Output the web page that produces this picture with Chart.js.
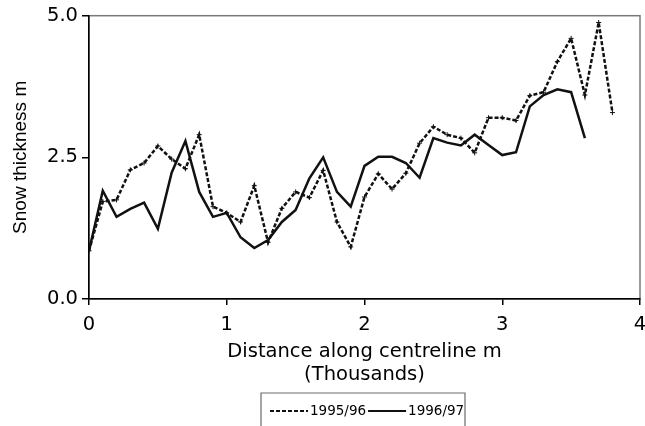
<!DOCTYPE html>
<html>
<head>
<meta charset="utf-8">
<title>Snow thickness along centreline</title>
<script src="https://cdn.jsdelivr.net/npm/chart.js@4/dist/chart.umd.min.js"></script>
<style>
  html, body { margin: 0; padding: 0; background: #fff; }
  canvas { display: block; }
</style>
</head>
<body>
<canvas id="snow-chart" width="645" height="426"></canvas>
<script>
// distance along centreline, thousands of m
const distance = [0, 0.1, 0.2, 0.3, 0.4, 0.5, 0.6, 0.7, 0.8, 0.9,
                  1.0, 1.1, 1.2, 1.3, 1.4, 1.5, 1.6, 1.7, 1.8, 1.9,
                  2.0, 2.1, 2.2, 2.3, 2.4, 2.5, 2.6, 2.7, 2.8, 2.9,
                  3.0, 3.1, 3.2, 3.3, 3.4, 3.5, 3.6, 3.7, 3.8];

// snow thickness m
const season9596 = [0.85, 1.72, 1.75, 2.28, 2.40, 2.70, 2.47, 2.30, 2.90, 1.63,
                    1.52, 1.36, 2.00, 1.00, 1.60, 1.89, 1.79, 2.27, 1.36, 0.92,
                    1.80, 2.21, 1.94, 2.22, 2.75, 3.04, 2.90, 2.84, 2.58, 3.20,
                    3.20, 3.15, 3.59, 3.65, 4.19, 4.60, 3.60, 4.88, 3.29];
const season9697 = [0.85, 1.91, 1.45, 1.59, 1.70, 1.24, 2.23, 2.79, 1.89, 1.45,
                    1.52, 1.09, 0.90, 1.04, 1.36, 1.57, 2.13, 2.50, 1.89, 1.63,
                    2.35, 2.51, 2.51, 2.40, 2.14, 2.84, 2.76, 2.71, 2.90, 2.72,
                    2.54, 2.59, 3.40, 3.60, 3.70, 3.65, 2.84];

const seriesLabels = ['1995/96', '1996/97'];
const xTicks = [0, 1, 2, 3, 4];
const yTicks = [0, 2.5, 5];

const FONT = 'DejaVu Sans';

function toPoints(values) {
    return values.map((v, i) => ({ x: distance[i], y: v }));
}

// grey frame round the plot (left/bottom get overdrawn by the black axes)
const plotFrame = {
    id: 'plotFrame',
    beforeDraw(chart) {
        const { ctx, chartArea: a } = chart;
        ctx.save();
        ctx.strokeStyle = '#7a7a7a';
        ctx.lineWidth = 1.5;
        ctx.strokeRect(a.left, a.top, a.right - a.left, a.bottom - a.top);
        ctx.restore();
    }
};

// boxed legend under the axis title
const boxLegend = {
    id: 'boxLegend',
    afterDraw(chart) {
        const ctx = chart.ctx;
        const top = 393, left = 261, right = 465;
        const midY = 411;
        ctx.save();
        ctx.strokeStyle = '#6a6a6a';
        ctx.lineWidth = 1.2;
        ctx.beginPath();
        ctx.moveTo(left, 432);
        ctx.lineTo(left, top);
        ctx.lineTo(right, top);
        ctx.lineTo(right, 432);
        ctx.stroke();

        ctx.font = '13.5px "' + FONT + '"';
        ctx.textBaseline = 'middle';
        ctx.fillStyle = '#000';
        let x = 270;
        chart.data.datasets.forEach(ds => {
            ctx.strokeStyle = ds.borderColor;
            ctx.lineWidth = 2;
            ctx.setLineDash(ds.borderDash || []);
            ctx.beginPath();
            ctx.moveTo(x, midY);
            ctx.lineTo(x + 38, midY);
            ctx.stroke();
            ctx.setLineDash([]);
            x += 40;
            ctx.fillText(ds.label, x, midY);
            x += ctx.measureText(ds.label).width + 2;
        });
        ctx.restore();
    }
};

const ctx = document.getElementById('snow-chart').getContext('2d');
new Chart(ctx, {
    type: 'line',
    data: {
        datasets: [{
            label: seriesLabels[0],
            data: toPoints(season9596),
            borderColor: '#111',
            backgroundColor: '#111',
            borderWidth: 2.5,
            borderDash: [4, 2],
            pointStyle: 'cross',
            pointRadius: 2.5,
            pointBorderWidth: 1,
            tension: 0
        }, {
            label: seriesLabels[1],
            data: toPoints(season9697),
            borderColor: '#111',
            backgroundColor: '#111',
            borderWidth: 2.5,
            pointRadius: 0,
            tension: 0
        }]
    },
    options: {
        responsive: false,
        animation: false,
        layout: { padding: { top: 15, right: 1, bottom: 34, left: 0 } },
        plugins: {
            legend: { display: false },
            tooltip: { enabled: false }
        },
        scales: {
            x: {
                type: 'linear',
                min: 0,
                max: 4,
                afterBuildTicks: s => { s.ticks = xTicks.map(v => ({ value: v })); },
                ticks: {
                    color: '#000',
                    font: { family: FONT, size: 19.5 },
                    padding: 8,
                    maxRotation: 0,
                    callback: v => String(v)
                },
                grid: { drawOnChartArea: false, tickLength: 6, color: '#000', lineWidth: 1.5 },
                border: { color: '#000', width: 1.5 },
                title: {
                    display: true,
                    text: ['Distance along centreline m', '(Thousands)'],
                    color: '#000',
                    font: { family: FONT, size: 19.5, lineHeight: 1.2 },
                    padding: { top: 0, bottom: 5 }
                },
                afterFit: s => { s.height = 93; s.paddingRight = 0; s.paddingLeft = 0; }
            },
            y: {
                min: 0,
                max: 5,
                afterBuildTicks: s => { s.ticks = yTicks.map(v => ({ value: v })); },
                ticks: {
                    color: '#000',
                    font: { family: FONT, size: 19.5 },
                    padding: 4,
                    callback: v => v.toFixed(1)
                },
                grid: { drawOnChartArea: false, tickLength: 7, color: '#000', lineWidth: 1.5 },
                border: { color: '#000', width: 1.5 },
                title: {
                    display: true,
                    text: 'Snow thickness m',
                    color: '#000',
                    font: { family: 'Liberation Sans', size: 19, lineHeight: 1.2 },
                    padding: { top: 9, bottom: 0 }
                },
                afterFit: s => { s.width = 89; }
            }
        }
    },
    plugins: [plotFrame, boxLegend]
});
</script>
</body>
</html>
